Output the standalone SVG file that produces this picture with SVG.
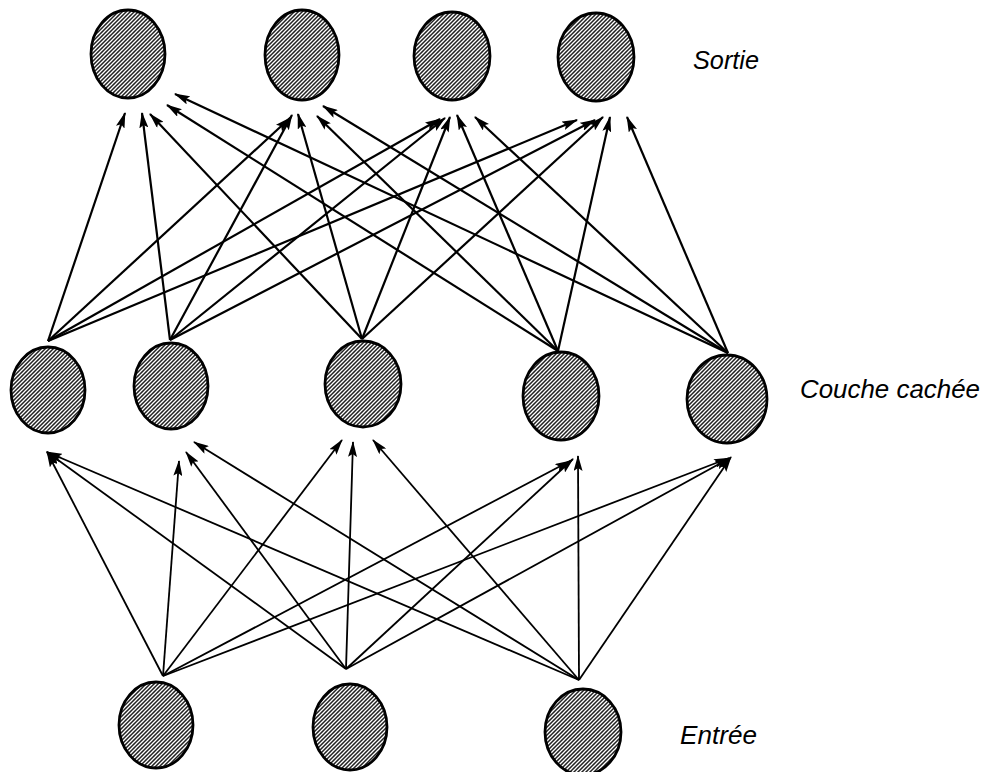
<svg xmlns="http://www.w3.org/2000/svg" width="991" height="772" viewBox="0 0 991 772">
<style>
.node{stroke:#000;stroke-width:2.8;fill:url(#tex)}
.lbl{font-family:"Liberation Sans",Arial,sans-serif;font-style:italic;font-size:25px;fill:#000}
.up{stroke:#000;stroke-width:2.2;fill:none;marker-end:url(#ah)}
.lo{stroke:#000;stroke-width:1.8;fill:none;marker-end:url(#ah)}
</style>
<defs>
<pattern id="tex" width="4" height="4" patternUnits="userSpaceOnUse">
<rect width="4" height="4" fill="#222"/>
<path d="M-1,1 L1,-1 M0,4 L4,0 M3,5 L5,3" stroke="#fff" stroke-width="1.3"/>
</pattern>
<marker id="ah" markerUnits="userSpaceOnUse" markerWidth="16" markerHeight="9" refX="15" refY="4.5" orient="auto">
<path d="M0,0 L16,4.5 L0,9 L3,4.5 z" fill="#000"/>
</marker>
</defs>
<rect width="991" height="772" fill="#fff"/>
<g id="connectors">
<line class="lo" x1="163" y1="676" x2="47" y2="452"/>
<line class="lo" x1="346" y1="669" x2="47" y2="452"/>
<line class="lo" x1="579" y1="680" x2="47" y2="452"/>
<line class="lo" x1="163" y1="676" x2="179" y2="461"/>
<line class="lo" x1="346" y1="669" x2="186" y2="452"/>
<line class="lo" x1="579" y1="680" x2="194" y2="442"/>
<line class="lo" x1="163" y1="676" x2="342" y2="440"/>
<line class="lo" x1="346" y1="669" x2="353" y2="442"/>
<line class="lo" x1="579" y1="680" x2="373" y2="440"/>
<line class="lo" x1="163" y1="676" x2="570" y2="461"/>
<line class="lo" x1="346" y1="669" x2="573" y2="459"/>
<line class="lo" x1="579" y1="680" x2="578" y2="456"/>
<line class="lo" x1="163" y1="676" x2="729" y2="458"/>
<line class="lo" x1="346" y1="669" x2="730" y2="458"/>
<line class="lo" x1="579" y1="680" x2="731" y2="457"/>
<line class="up" x1="48" y1="341" x2="125" y2="113"/>
<line class="up" x1="170" y1="340" x2="142" y2="113"/>
<line class="up" x1="362" y1="339" x2="150" y2="114"/>
<line class="up" x1="558" y1="351" x2="167" y2="105"/>
<line class="up" x1="728" y1="353" x2="175" y2="94"/>
<line class="up" x1="48" y1="341" x2="290" y2="118"/>
<line class="up" x1="170" y1="340" x2="292" y2="115"/>
<line class="up" x1="362" y1="339" x2="298" y2="114"/>
<line class="up" x1="558" y1="351" x2="317" y2="116"/>
<line class="up" x1="728" y1="353" x2="323" y2="106"/>
<line class="up" x1="48" y1="341" x2="440" y2="119"/>
<line class="up" x1="170" y1="340" x2="445" y2="118"/>
<line class="up" x1="362" y1="339" x2="450" y2="117"/>
<line class="up" x1="558" y1="351" x2="457" y2="115"/>
<line class="up" x1="728" y1="353" x2="475" y2="117"/>
<line class="up" x1="48" y1="341" x2="577" y2="120"/>
<line class="up" x1="170" y1="340" x2="595" y2="120"/>
<line class="up" x1="362" y1="339" x2="603" y2="117"/>
<line class="up" x1="558" y1="351" x2="610" y2="117"/>
<line class="up" x1="728" y1="353" x2="627" y2="117"/>
</g>
<g id="out1"><ellipse class="node" cx="128" cy="54" rx="37" ry="44"/></g>
<g id="out2"><ellipse class="node" cx="302" cy="55" rx="37" ry="45"/></g>
<g id="out3"><ellipse class="node" cx="452" cy="56" rx="38" ry="44"/></g>
<g id="out4"><ellipse class="node" cx="596" cy="57" rx="38" ry="44"/></g>
<g id="hid1"><ellipse class="node" cx="48" cy="390" rx="37" ry="43"/></g>
<g id="hid2"><ellipse class="node" cx="171" cy="386" rx="37" ry="43"/></g>
<g id="hid3"><ellipse class="node" cx="363" cy="384" rx="38" ry="43"/></g>
<g id="hid4"><ellipse class="node" cx="561" cy="396" rx="38" ry="44"/></g>
<g id="hid5"><ellipse class="node" cx="727" cy="399" rx="40" ry="44"/></g>
<g id="in1"><ellipse class="node" cx="156" cy="725" rx="37" ry="43"/></g>
<g id="in2"><ellipse class="node" cx="350" cy="727" rx="37" ry="43"/></g>
<g id="in3"><ellipse class="node" cx="583" cy="732" rx="38" ry="43"/></g>
<g id="labels">
<text class="lbl" x="693" y="69" textLength="66" lengthAdjust="spacingAndGlyphs">Sortie</text>
<text class="lbl" x="800" y="398" textLength="180" lengthAdjust="spacingAndGlyphs">Couche cachée</text>
<text class="lbl" x="680" y="744" textLength="77" lengthAdjust="spacingAndGlyphs">Entrée</text>
</g>
</svg>
